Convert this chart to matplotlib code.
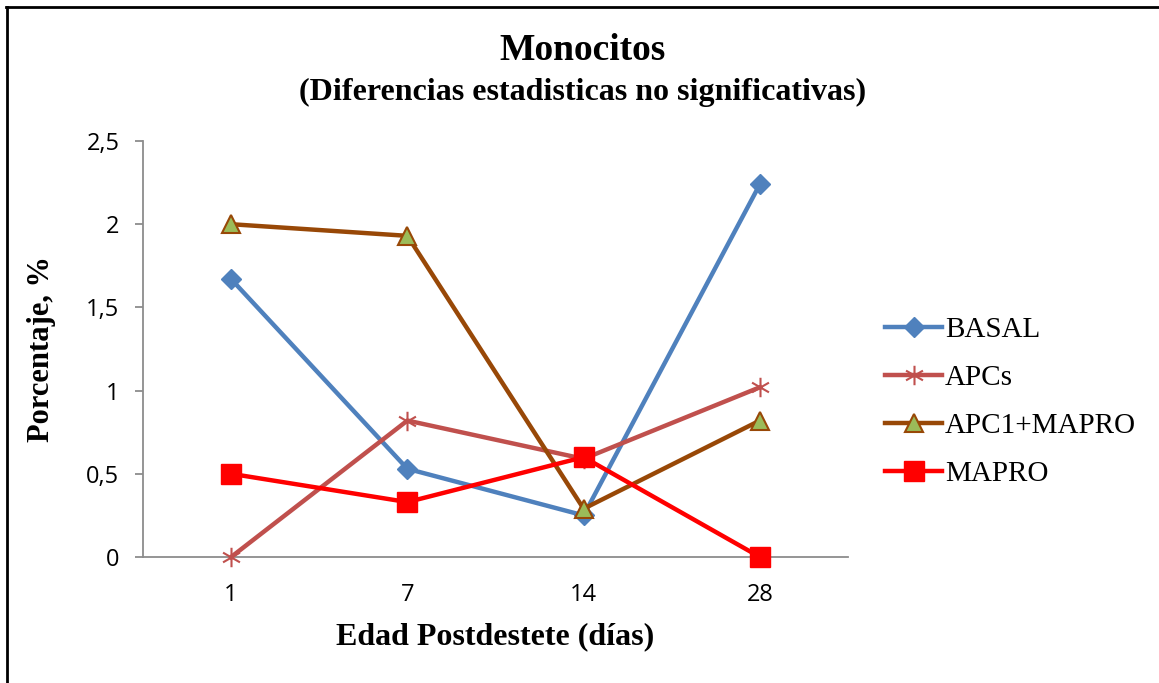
import matplotlib
matplotlib.use("Agg")
import matplotlib.pyplot as plt
from matplotlib.path import Path
from matplotlib.lines import Line2D

categories = ["1", "7", "14", "28"]
basal = [1.67, 0.53, 0.25, 2.24]
apcs = [0.0, 0.82, 0.59, 1.02]
apc1_mapro = [2.0, 1.93, 0.29, 0.82]
mapro = [0.5, 0.33, 0.6, 0.0]
yticks = [0, 0.5, 1, 1.5, 2, 2.5]
ytick_labels = ["0", "0,5", "1", "1,5", "2", "2,5"]

W, H = 1159, 683
fig = plt.figure(figsize=(W / 100, H / 100), dpi=100)
ax = fig.add_axes([143 / W, 1 - 557 / H, (848 - 143) / W, (557 - 141) / H])

# asterisk marker
ast = Path([(0, -1), (0, 1), (-0.87, -0.5), (0.87, 0.5), (-0.87, 0.5), (0.87, -0.5)],
           [Path.MOVETO, Path.LINETO, Path.MOVETO, Path.LINETO, Path.MOVETO, Path.LINETO])

x = list(range(len(categories)))
lw = 3.2
ax.plot(x, basal, color="#4F81BD", lw=lw, marker="D", ms=10.5, mfc="#4F81BD", mec="#4F81BD", label="BASAL", zorder=3, clip_on=False)
ax.plot(x, apcs, color="#C0504D", lw=lw, marker=ast, ms=14, mew=1.5, mfc="none", mec="#C0504D", label="APCs", zorder=3, clip_on=False)
ax.plot(x, apc1_mapro, color="#984807", lw=lw, marker="^", ms=13.5, mfc="#9BBB59", mec="#984807", mew=1.5, label="APC1+MAPRO", zorder=4, clip_on=False)
ax.plot(x, mapro, color="#FF0000", lw=lw, marker="s", ms=14, mfc="#FF0000", mec="#FF0000", label="MAPRO", zorder=5, clip_on=False)

ax.set_xlim(-0.5, len(categories) - 0.5)
ax.set_ylim(0, 2.5)
ax.set_xticks(x)
ax.set_xticklabels(categories)
ax.set_yticks(yticks)
ax.set_yticklabels(ytick_labels)
ax.spines["top"].set_visible(False)
ax.spines["right"].set_visible(False)
for s in ("left", "bottom"):
    ax.spines[s].set_color("#8C8C8C")
    ax.spines[s].set_linewidth(1.3)
    ax.spines[s].set_zorder(1)
ax.tick_params(axis="x", length=0, pad=19, labelsize=17)
ax.tick_params(axis="y", length=6, width=1.3, color="#8C8C8C", direction="out", pad=11, labelsize=17)
for lab in ax.get_xticklabels() + ax.get_yticklabels():
    lab.set_fontfamily("Open Sans")

serif = "Liberation Serif"
ax.set_xlabel("Edad Postdestete (días)", fontfamily=serif, fontweight="bold", fontsize=23, labelpad=11)
ax.set_ylabel("Porcentaje, %", fontfamily=serif, fontweight="bold", fontsize=22, labelpad=22)

fig.text(583 / W, 1 - 50 / H, "Monocitos", ha="center", va="center", fontfamily=serif, fontweight="bold", fontsize=27)
fig.text(583 / W, 1 - 92 / H, "(Diferencias estadisticas no significativas)", ha="center", va="center",
         fontfamily=serif, fontweight="bold", fontsize=23)

leg = fig.legend(loc="center left", bbox_to_anchor=(859 / W, 1 - 402 / H), frameon=False,
                 prop={"family": serif, "size": 21}, handlelength=1.95, handletextpad=0.1,
                 labelspacing=0.74)

fig.add_artist(Line2D([7 / W, 7 / W], [0, 1 - 7 / H], color="black", lw=2, transform=fig.transFigure))
fig.add_artist(Line2D([6 / W, 1], [1 - 7 / H, 1 - 7 / H], color="black", lw=2, transform=fig.transFigure))

fig.savefig("out.png", dpi=100)
